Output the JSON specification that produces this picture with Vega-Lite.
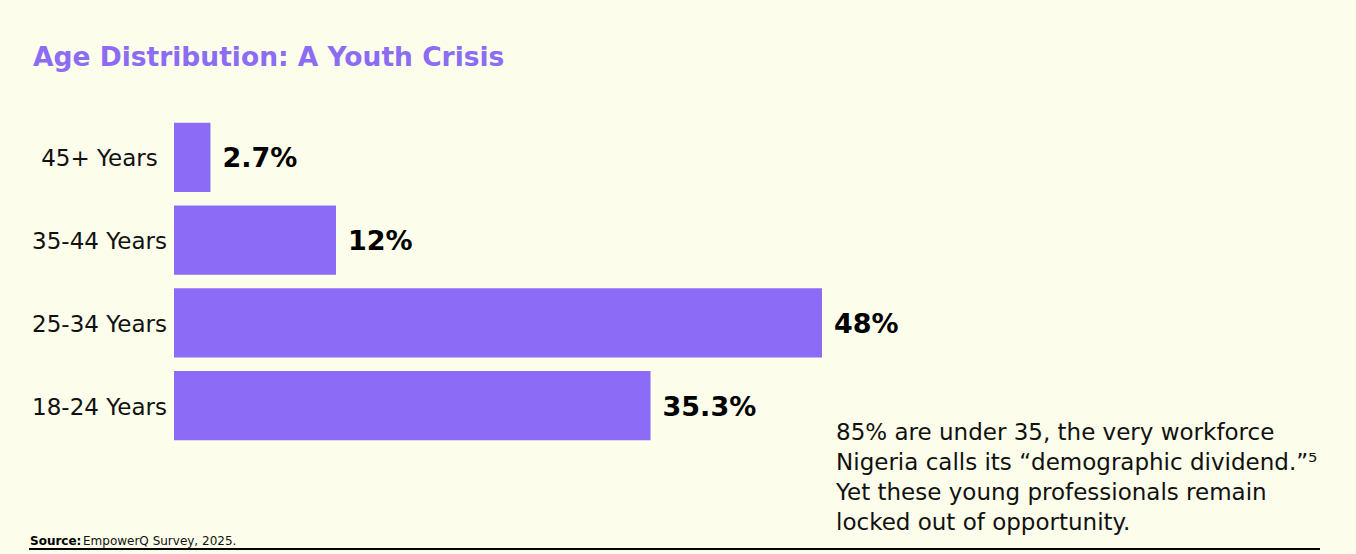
{
  "$schema": "https://vega.github.io/schema/vega-lite/v6.json",
  "width": 810,
  "height": 331,
  "autosize": {"type": "none"},
  "padding": {"left": 174, "top": 116, "right": 372, "bottom": 107},
  "background": "#fcfdea",
  "config": {"view": {"stroke": null}},
  "title": {
    "text": "Age Distribution: A Youth Crisis",
    "anchor": "start",
    "frame": "group",
    "dx": -141,
    "offset": 24,
    "baseline": "alphabetic",
    "font": "DejaVu Sans",
    "fontSize": 26.5,
    "fontWeight": "bold",
    "color": "#8b6cf3"
  },
  "resolve": {"scale": {"y": "independent"}},
  "layer": [
    {
      "data": {
        "values": [
          {"age": "45+ Years", "pct": 2.7, "label": "2.7%"},
          {"age": "35-44 Years", "pct": 12, "label": "12%"},
          {"age": "25-34 Years", "pct": 48, "label": "48%"},
          {"age": "18-24 Years", "pct": 35.3, "label": "35.3%"}
        ]
      },
      "encoding": {
        "y": {
          "field": "age",
          "type": "nominal",
          "sort": ["45+ Years", "35-44 Years", "25-34 Years", "18-24 Years"],
          "scale": {"paddingInner": 0.1653, "paddingOuter": 0.0827},
          "axis": {
            "title": null,
            "ticks": false,
            "tickSize": 0,
            "domain": false,
            "labelAlign": "center",
            "labelBaseline": "middle",
            "labelPadding": 75,
            "labelOffset": 2,
            "labelFont": "DejaVu Sans",
            "labelFontSize": 23,
            "labelColor": "#111111"
          }
        },
        "x": {
          "field": "pct",
          "type": "quantitative",
          "scale": {"domain": [0, 60], "nice": false},
          "axis": null
        }
      },
      "layer": [
        {"mark": {"type": "bar", "color": "#8c6cf6"}},
        {
          "mark": {
            "type": "text",
            "align": "left",
            "baseline": "middle",
            "dx": 12,
            "dy": 2,
            "font": "DejaVu Sans",
            "fontSize": 27,
            "fontWeight": "bold",
            "color": "#000000"
          },
          "encoding": {"text": {"field": "label"}}
        }
      ]
    },
    {
      "data": {
        "values": [
          {
            "note": "85% are under 35, the very workforce\nNigeria calls its “demographic dividend.”⁵\nYet these young professionals remain\nlocked out of opportunity.",
            "srcBold": "Source:",
            "src": "EmpowerQ Survey, 2025."
          }
        ]
      },
      "layer": [
        {
          "mark": {
            "type": "text",
            "align": "left",
            "baseline": "alphabetic",
            "lineBreak": "\n",
            "lineHeight": 30,
            "font": "DejaVu Sans",
            "fontSize": 23,
            "color": "#111111"
          },
          "encoding": {
            "x": {"datum": 49.04, "type": "quantitative", "scale": {"domain": [0, 60], "nice": false}},
            "y": {"datum": 1, "type": "quantitative", "scale": {"domain": [-9.8, 1.2333], "reverse": true, "nice": false, "zero": false}, "axis": null},
            "text": {"field": "note"}
          }
        },
        {
          "mark": {
            "type": "text",
            "align": "left",
            "baseline": "alphabetic",
            "font": "DejaVu Sans",
            "fontSize": 12,
            "fontWeight": "bold",
            "color": "#000000"
          },
          "encoding": {
            "x": {"datum": -10.667, "type": "quantitative"},
            "y": {"datum": 4.5, "type": "quantitative"},
            "text": {"field": "srcBold"}
          }
        },
        {
          "mark": {
            "type": "text",
            "align": "left",
            "baseline": "alphabetic",
            "font": "DejaVu Sans",
            "fontSize": 12,
            "color": "#111111"
          },
          "encoding": {
            "x": {"datum": -6.74, "type": "quantitative"},
            "y": {"datum": 4.5, "type": "quantitative"},
            "text": {"field": "src"}
          }
        },
        {
          "mark": {"type": "rule", "color": "#000000", "strokeWidth": 2},
          "encoding": {
            "x": {"datum": -10.74, "type": "quantitative"},
            "x2": {"datum": 84.89},
            "y": {"datum": 4.633, "type": "quantitative"}
          }
        }
      ]
    }
  ]
}
